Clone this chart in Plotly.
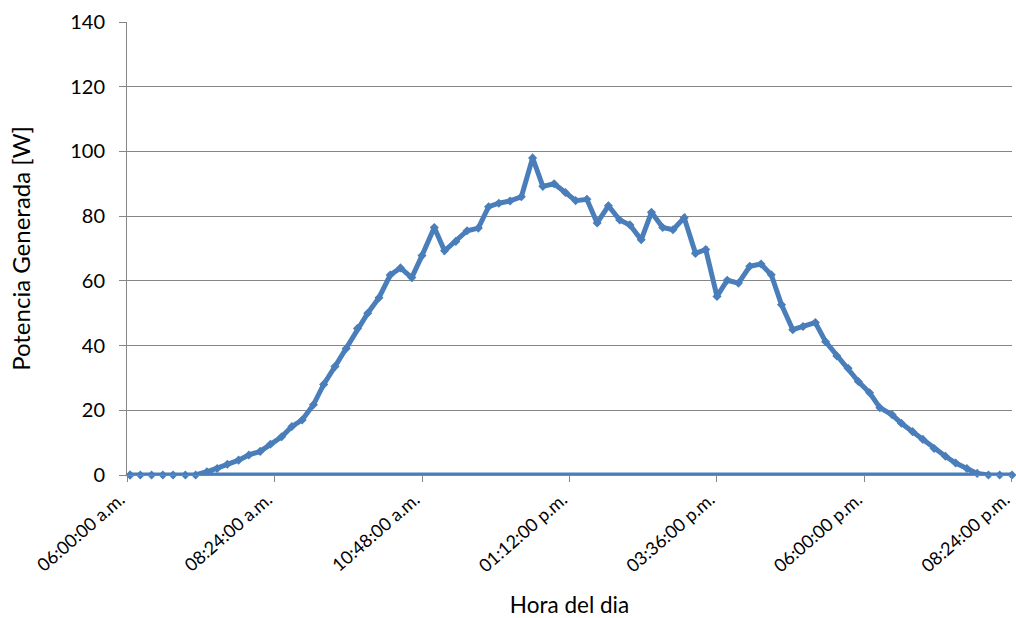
import plotly.graph_objects as go

# Hora de cada medición (hh:mm) y potencia generada [W]
horas = [
    "06:03", "06:13", "06:24", "06:35", "06:45", "06:57", "07:07", "07:18", "07:28", "07:38",
    "07:49", "07:59", "08:10", "08:20", "08:31", "08:41", "08:51", "09:02", "09:12", "09:23",
    "09:34", "09:45", "09:55", "10:06", "10:17", "10:27", "10:38", "10:48", "11:00", "11:10",
    "11:21", "11:32", "11:43", "11:53", "12:03", "12:14", "12:25", "12:36", "12:46", "12:57",
    "13:08", "13:18", "13:29", "13:39", "13:50", "14:01", "14:11", "14:22", "14:32", "14:43",
    "14:53", "15:04", "15:15", "15:25", "15:36", "15:46", "15:57", "16:08", "16:19", "16:29",
    "16:39", "16:50", "17:00", "17:12", "17:22", "17:33", "17:44", "17:54", "18:05", "18:15",
    "18:27", "18:36", "18:47", "18:57", "19:08", "19:19", "19:29", "19:40", "19:50", "20:01",
    "20:12", "20:24",
]
potencia = [
    0, 0, 0, 0, 0, 0, 0, 1.0, 2.0, 3.3,
    4.6, 6.2, 7.3, 9.5, 11.8, 15.0, 17.0, 21.7, 28.0, 33.5,
    39.1, 45.3, 50.0, 54.8, 61.8, 64.0, 61.0, 67.8, 76.5, 69.3,
    72.2, 75.5, 76.3, 82.9, 84.0, 84.7, 86.0, 98.0, 89.2, 90.0,
    87.3, 84.8, 85.2, 77.9, 83.2, 78.8, 77.3, 72.7, 81.2, 76.5,
    75.8, 79.5, 68.5, 69.7, 55.2, 60.2, 59.3, 64.5, 65.2, 61.9,
    52.6, 44.9, 45.9, 47.1, 41.2, 36.8, 33.0, 28.9, 25.4, 20.8,
    18.6, 16.0, 13.4, 11.0, 8.2, 5.8, 3.7, 2.0, 0.5, 0,
    0, 0,
]

# Marcas del eje horizontal
tick_horas = ["06:00", "08:24", "10:48", "13:12", "15:36", "18:00", "20:24"]
tick_textos = [
    "06:00:00 a.m.", "08:24:00 a.m.", "10:48:00 a.m.", "01:12:00 p.m.",
    "03:36:00 p.m.", "06:00:00 p.m.", "08:24:00 p.m.",
]

DIA = "2000-01-01 "
x = [DIA + h for h in horas]
y = list(potencia)
# la serie vuelve al primer registro, cerrando el trazo sobre el eje
x.append(x[0])
y.append(y[0])

AZUL = "#4A7EBB"
GRIS = "#868686"
FUENTE = "Lato, Carlito, Calibri, sans-serif"

fig = go.Figure(
    go.Scatter(
        x=x,
        y=y,
        mode="lines+markers",
        line=dict(color=AZUL, width=5),
        marker=dict(symbol="diamond", size=7, color=AZUL),
        showlegend=False,
        cliponaxis=False,
    )
)

fig.update_layout(
    width=1016,
    height=618,
    margin=dict(l=127, r=4, t=22, b=143),
    paper_bgcolor="white",
    plot_bgcolor="white",
    font=dict(family=FUENTE, size=18, color="black"),
)

fig.update_xaxes(
    type="date",
    automargin=False,
    range=[DIA + tick_horas[0], DIA + tick_horas[-1] + ":00.5"],
    tickvals=[DIA + h for h in tick_horas],
    ticktext=tick_textos,
    tickangle=-41,
    tickfont=dict(size=18, family=FUENTE),
    ticklabeloverflow="allow",
    ticklabelshift=-7,
    ticks="outside",
    ticklen=6,
    tickcolor=GRIS,
    showgrid=False,
    showline=True,
    linecolor=GRIS,
    linewidth=1,
    zeroline=False,
    title=dict(text="Hora del dia", font=dict(size=22.5, family=FUENTE), standoff=28),
)

fig.update_yaxes(
    automargin=False,
    range=[0, 140],
    tickvals=[0, 20, 40, 60, 80, 100, 120, 140],
    tickfont=dict(size=20, family=FUENTE),
    ticks="outside",
    ticklen=7,
    tickcolor=GRIS,
    ticklabelstandoff=10,
    showgrid=True,
    gridcolor=GRIS,
    gridwidth=1,
    showline=True,
    linecolor=GRIS,
    linewidth=1,
    zeroline=False,
    title=dict(text="Potencia Generada [W]", font=dict(size=24, family=FUENTE), standoff=32),
)

fig.write_html("out.html")
